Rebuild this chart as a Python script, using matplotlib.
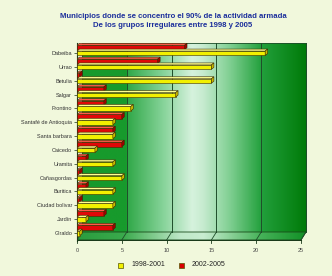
import numpy as np
import matplotlib
matplotlib.use("Agg")
import matplotlib.pyplot as plt
from matplotlib.colors import LinearSegmentedColormap
from matplotlib.patches import Polygon, Rectangle

municipios = ["Dabeiba", "Urrao", "Betulia", "Salgar", "Frontino",
              "Santafé de Antioquia", "Santa barbara", "Caicedo", "Uramita",
              "Cañasgordas", "Buritica", "Ciudad bolivar", "Jardín", "Giraldo"]
p1998_2001 = [21, 15, 15, 11, 6, 4, 4, 2, 4, 5, 4, 4, 1, 0.3]
p2002_2005 = [12, 9, 0.3, 3, 3, 5, 4, 5, 1, 0.3, 1, 0.3, 3, 4]
x_ticks = [0, 5, 10, 15, 20, 25]
title = ("Municipios donde se concentro el 90% de la actividad armada\n"
         "De los grupos irregulares entre 1998 y 2005")

W, H = 332, 276
BG = "#f1f8dc"
plt.rcParams["font.family"] = ["Liberation Sans", "DejaVu Sans"]

fig = plt.figure(figsize=(W / 100, H / 100), dpi=100, facecolor=BG)

# axes in pixel terms: x=0 at 77px, 8.96 px per unit; category 0 at 53px, 13.85 px per row
px_x = 8.96
px_y = 13.85
left, right, top, bottom = 77, 309, 43, 241
ax = fig.add_axes([left / W, 1 - bottom / H, (right - left) / W, (bottom - top) / H])
ax.set_facecolor("none")
for s in ["top", "right", "bottom"]:
    ax.spines[s].set_visible(False)
ax.spines["left"].set_color("#1a3a1a")
ax.spines["left"].set_linewidth(0.8)

n = len(municipios)
xmax = x_ticks[-1]
dx = 5 / px_x          # depth offset of back wall
dy = 8 / px_y
y_front = (240 - 53) / px_y
y_back = y_front - dy
y_top = (top - 53) / px_y

# back wall gradient
wall_cmap = LinearSegmentedColormap.from_list("wall", [
    (0.0, "#179a2c"), (0.199, "#179a2c"), (0.2, "#30a848"), (0.36, "#86d399"),
    (0.49, "#d6f2dd"), (0.54, "#c6ebcf"), (0.66, "#7fcf91"), (0.8, "#22a03c"),
    (1.0, "#007a08")])
grad = np.linspace(0, 1, 400).reshape(1, -1)
ax.imshow(grad, cmap=wall_cmap, aspect="auto",
          extent=(dx, xmax + dx, y_back, y_top), zorder=0, interpolation="bilinear")

# floor
floor_cmap = LinearSegmentedColormap.from_list("floor", [
    (0.0, "#2a9c3e"), (0.2, "#3aaa4c"), (0.45, "#bfe8c8"), (0.55, "#c9edd1"),
    (0.8, "#46b259"), (1.0, "#119025")])
floor_im = ax.imshow(grad, cmap=floor_cmap, aspect="auto",
                     extent=(0, xmax + dx, y_front, y_back), zorder=0.5,
                     interpolation="bilinear")
floor = Polygon([(0, y_front), (xmax, y_front), (xmax + dx, y_back), (dx, y_back)],
                closed=True, facecolor="none", edgecolor="#1a4a1a", lw=0.6, zorder=1)
ax.add_patch(floor)
floor_im.set_clip_path(floor)

# grid lines on back wall and floor
for t in x_ticks[1:]:
    ax.plot([t + dx, t + dx], [y_back, y_top], color="#1f4d2a", lw=0.7, zorder=1)
    ax.plot([t, t + dx], [y_front, y_back], color="#1f4d2a", lw=0.6, zorder=1)
ax.plot([dx, dx], [y_back, y_top], color="#1f4d2a", lw=0.6, zorder=1)
ax.plot([dx, xmax + dx], [y_top, y_top], color="#1f4d2a", lw=0.6, zorder=1)
ax.plot([0, xmax], [y_front, y_front], color="#1a3a1a", lw=0.8, zorder=3)
for t in x_ticks:
    ax.plot([t, t], [y_front, y_front + 0.2], color="#1a3a1a", lw=0.6,
            zorder=3, clip_on=False)
    ax.text(t, y_front + 0.6, str(t), ha="center", va="top", fontsize=4,
            color="#444444", clip_on=False)

# 3d bars
bh = 0.32
cdx = 2.5 / px_x
cdy = 2 / px_y
ypos = np.arange(n)


def bar3d(y, val, face, topc, endc):
    ax.barh(y, val, height=bh, left=0, color=face, edgecolor="#3a2a00",
            linewidth=0.4, zorder=4)
    y0 = y - bh / 2
    ax.add_patch(Polygon([(0, y0), (val, y0), (val + cdx, y0 - cdy), (cdx, y0 - cdy)],
                         facecolor=topc, edgecolor="#3a2a00", lw=0.4, zorder=4))
    ax.add_patch(Polygon([(val, y0), (val + cdx, y0 - cdy),
                          (val + cdx, y0 + bh - cdy), (val, y0 + bh)],
                         facecolor=endc, edgecolor="#3a2a00", lw=0.4, zorder=4))


for i in range(n):
    bar3d(ypos[i] - 0.4, p2002_2005[i], "#e00808", "#ff5a4a", "#a00000")
    bar3d(ypos[i] + 0.02, p1998_2001[i], "#f2f000", "#ffff90", "#c8b800")

ax.set_yticks(ypos)
ax.set_yticklabels(municipios, fontsize=4, color="#333333")
ax.tick_params(axis="y", length=2, width=0.5, color="#1a3a1a", pad=1.5)
ax.set_xticks([])
ax.set_xlim(0, (right - left) / px_x)
ax.set_ylim((bottom - 53) / px_y, (top - 53) / px_y)

fig.text(173 / W, 1 - 21 / H, title, ha="center", va="center", fontsize=5.6,
         fontweight="bold", color="#1c2f9c", linespacing=1.35)

# legend
for xs, col, lab in [(120, "#f2f000", "1998-2001"), (181, "#d80000", "2002-2005")]:
    fig.patches.append(Rectangle(((xs - 2.5) / W, 1 - 267.5 / H), 5 / W, 5 / H,
                                 transform=fig.transFigure, facecolor=col,
                                 edgecolor="#555500", lw=0.5))
    fig.text((xs + 11) / W, 1 - 265 / H, lab, ha="left", va="center",
             fontsize=5, color="#222222")

fig.savefig("out.png", dpi=100, facecolor=BG)
